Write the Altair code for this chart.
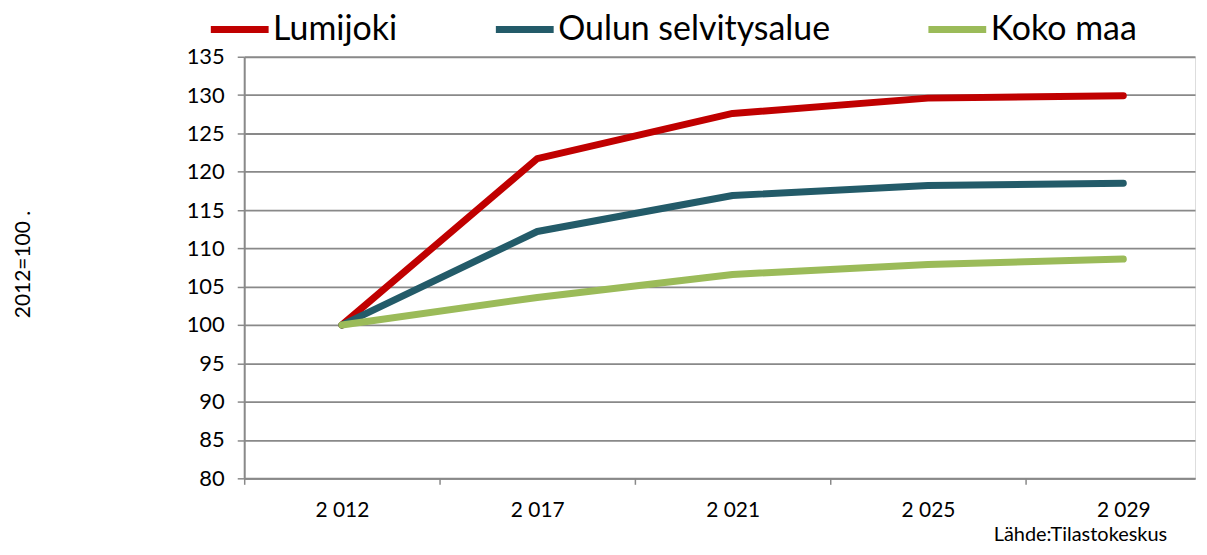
import altair as alt
import pandas as pd

years = ["2 012", "2 017", "2 021", "2 025", "2 029"]
series = ["Lumijoki", "Oulun selvitysalue", "Koko maa"]
lumijoki = [100, 121.7, 127.6, 129.6, 129.9]
oulu = [100, 112.2, 116.9, 118.2, 118.5]
koko = [100, 103.6, 106.6, 107.9, 108.6]
colors = ["#C00000", "#235B69", "#9BBB59"]
y_ticks = list(range(80, 136, 5))
source_note = ["Lähde:Tilastokeskus"]

rows = []
for name, vals in zip(series, [lumijoki, oulu, koko]):
    for i, (yr, v) in enumerate(zip(years, vals)):
        rows.append({"series": name, "idx": i, "year": yr, "value": v})
df = pd.DataFrame(rows)

FONT = "Lato"
GRAY = "#898989"
year_arr = "[" + ",".join("'%s'" % y for y in years) + "]"
x_vals = []
for i in range(len(years)):
    x_vals += [i - 0.5, i]

lines = alt.Chart(df).mark_line(strokeWidth=7, strokeCap="round", strokeJoin="round").encode(
    x=alt.X("idx:Q",
            scale=alt.Scale(domain=[-0.5, 4.367], nice=False, zero=False),
            axis=alt.Axis(values=x_vals, title=None, grid=False,
                          labelExpr="datum.value % 1 == 0 ? " + year_arr + "[datum.value] : ''",
                          labelFont=FONT, labelFontSize=21, labelColor="black",
                          labelPadding=15, labelFlush=False, labelOverlap=False,
                          domainColor=GRAY, domainWidth=2,
                          tickColor=GRAY, tickWidth=1.5, tickSize=6,
                          tickOpacity={"condition": {"test": "datum.value % 1 != 0", "value": 1}, "value": 0})),
    y=alt.Y("value:Q",
            scale=alt.Scale(domain=[80, 135], nice=False, zero=False),
            axis=alt.Axis(values=y_ticks, title="2012=100   .", grid=True,
                          gridColor=GRAY, gridWidth=1.8,
                          labelFont=FONT, labelFontSize=22, labelColor="black", labelPadding=13,
                          domainColor=GRAY, domainWidth=2, tickColor=GRAY, tickWidth=1.5, tickSize=7,
                          titleFont=FONT, titleFontSize=21, titleFontWeight="normal", titleColor="black",
                          titleAngle=-90, titleX=-221, titleY=208, titleAlign="center", titleBaseline="middle")),
    color=alt.Color("series:N",
                    scale=alt.Scale(domain=series, range=colors),
                    legend=alt.Legend(title=None, orient="none", direction="horizontal",
                                      legendX=-37, legendY=-60,
                                      symbolType="stroke", symbolSize=3364, symbolStrokeWidth=7,
                                      labelFont=FONT, labelFontSize=34, labelColor="black",
                                      labelOffset=1, columnPadding=84, labelLimit=500)),
    detail="series:N",
)

note_df = pd.DataFrame({"t": source_note})
note = alt.Chart(note_df).mark_text(align="left", baseline="middle", font=FONT, fontSize=20, color="black").encode(
    text="t:N", x=alt.value(752), y=alt.value(480)
)

chart = alt.layer(lines, note).properties(
    width=954, height=423,
    padding={"left": 237, "top": 48, "right": 4, "bottom": 68},
    autosize=alt.AutoSizeParams(type="none"),
).configure_view(stroke=None).configure(background="white")

chart.save("out.html", embed_options={"renderer": "svg", "actions": False})
